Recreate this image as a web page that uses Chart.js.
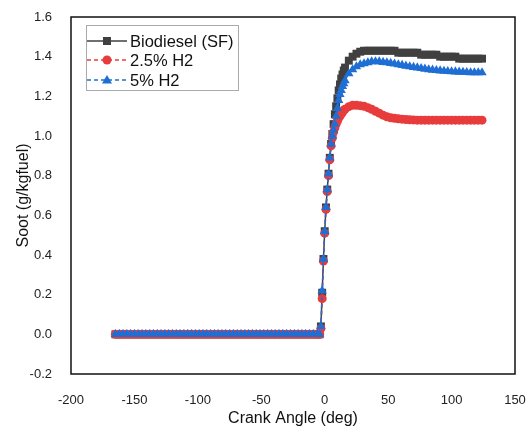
<!DOCTYPE html>
<html>
<head>
<meta charset="utf-8">
<script src="https://cdn.jsdelivr.net/npm/chart.js@4.4.1/dist/chart.umd.min.js"></script>
<style>
  html, body { margin: 0; padding: 0; background: #fff; }
  canvas { display: block; }
</style>
</head>
<body>
<canvas id="sootChart" width="529" height="433"></canvas>
<script>
// Crank angle (deg): before ignition, the fast rise, then the late plateau
const angleBefore = [-165, -162, -159, -156, -153, -150, -147, -144, -141, -138, -135, -132, -129, -126, -123, -120, -117, -114,
    -111, -108, -105, -102, -99, -96, -93, -90, -87, -84, -81, -78, -75, -72, -69, -66, -63, -60, -57, -54, -51, -48,
    -45, -42, -39, -36, -33, -30, -27, -24, -21, -18, -15, -12, -9, -6];
const angleRise = [-4, -3, -2, -1, 0, 1, 2, 3, 4, 5, 6, 7, 8, 9, 10, 11, 12, 13, 14, 15, 16];
const angleLate = [19, 22, 25, 28, 31, 34, 37, 40, 43, 46, 49, 52, 55, 58, 61, 64, 67, 70, 73, 76, 79, 82, 85, 88,
    91, 94, 97, 100, 103, 106, 109, 112, 115, 118, 121, 124];

// Soot before ignition is zero for all three cases
const sootBefore = [0, 0, 0, 0, 0, 0, 0, 0, 0, 0, 0, 0, 0, 0, 0, 0, 0, 0, 0, 0, 0, 0, 0, 0, 0, 0, 0,
    0, 0, 0, 0, 0, 0, 0, 0, 0, 0, 0, 0, 0, 0, 0, 0, 0, 0, 0, 0, 0, 0, 0, 0, 0, 0, 0];

const biodieselRise = [0, 0.04, 0.21, 0.38, 0.52, 0.64, 0.73, 0.81, 0.89, 0.96, 1.01, 1.06, 1.11, 1.15, 1.19, 1.23, 1.26, 1.29, 1.31, 1.33, 1.345];
const biodieselLate = [1.38, 1.40, 1.415, 1.425, 1.43, 1.43, 1.43, 1.43, 1.43, 1.43, 1.43, 1.43, 1.43, 1.42, 1.42, 1.42, 1.42, 1.42,
    1.42, 1.41, 1.41, 1.41, 1.41, 1.41, 1.40, 1.40, 1.40, 1.40, 1.40, 1.39, 1.39, 1.39, 1.39, 1.39, 1.39, 1.39];

const h2Low_Rise = [0, 0.03, 0.18, 0.37, 0.51, 0.63, 0.72, 0.8, 0.88, 0.95, 0.99, 1.02, 1.04, 1.06, 1.075, 1.09, 1.10, 1.11, 1.12, 1.13, 1.135];
const h2Low_Late = [1.148, 1.155, 1.155, 1.153, 1.15, 1.143, 1.135, 1.125, 1.115, 1.105, 1.097, 1.092, 1.089, 1.087, 1.085, 1.083,
    1.082, 1.081, 1.08, 1.08, 1.08, 1.08, 1.08, 1.08, 1.08, 1.08, 1.08, 1.08, 1.08, 1.08, 1.08, 1.08, 1.08, 1.08, 1.08, 1.08];

const h2High_Rise = [0, 0.04, 0.22, 0.38, 0.52, 0.64, 0.73, 0.81, 0.89, 0.96, 1.0, 1.03, 1.06, 1.1, 1.14, 1.18, 1.21, 1.23, 1.25, 1.265, 1.28];
const h2High_Late = [1.315, 1.335, 1.35, 1.36, 1.365, 1.37, 1.375, 1.375, 1.375, 1.372, 1.37, 1.367, 1.364, 1.36, 1.357, 1.353, 1.35, 1.347,
    1.344, 1.341, 1.338, 1.335, 1.333, 1.331, 1.329, 1.327, 1.326, 1.325, 1.324, 1.323, 1.322, 1.321, 1.32, 1.32, 1.32, 1.32];

const seriesNames = ['Biodiesel (SF)', '2.5% H2', '5% H2'];
const xTicks = [-200, -150, -100, -50, 0, 50, 100, 150];
const yTicks = [-0.2, 0, 0.2, 0.4, 0.6, 0.8, 1.0, 1.2, 1.4, 1.6];

const crankAngle = angleBefore.concat(angleRise, angleLate);

function toPoints(before, rise, late) {
    const soot = before.concat(rise, late);
    return crankAngle.map((x, i) => ({ x: x, y: soot[i] }));
}

const FONT = "'Liberation Sans', Arial, sans-serif";

// frame around the plot area and the boxed legend in the top-left corner
const frameAndLegend = {
    id: 'frameAndLegend',
    afterDraw(chart) {
        const ctx = chart.ctx;
        const a = chart.chartArea;
        ctx.save();
        ctx.strokeStyle = '#111';
        ctx.lineWidth = 1.5;
        ctx.strokeRect(a.left, a.top, a.right - a.left, a.bottom - a.top);

        const bx = a.left + 15, by = a.top + 8;
        ctx.fillStyle = '#fff';
        ctx.fillRect(bx, by, 152, 65);
        ctx.strokeStyle = '#aaa';
        ctx.lineWidth = 1;
        ctx.strokeRect(bx + 0.5, by + 0.5, 152, 65);

        const rows = [by + 16, by + 35, by + 55];
        chart.data.datasets.forEach((ds, i) => {
            const y = rows[i];
            ctx.strokeStyle = ds.borderColor;
            ctx.lineWidth = 1.5;
            ctx.setLineDash(ds.borderDash || []);
            ctx.beginPath();
            ctx.moveTo(bx + 1, y);
            ctx.lineTo(bx + 41, y);
            ctx.stroke();
            ctx.setLineDash([]);
            ctx.fillStyle = ds.pointBackgroundColor;
            const cx = bx + 21;
            ctx.beginPath();
            if (ds.pointStyle === 'rect') {
                ctx.rect(cx - 4, y - 4, 8, 8);
            } else if (ds.pointStyle === 'circle') {
                ctx.arc(cx, y, 4.5, 0, Math.PI * 2);
            } else {
                ctx.moveTo(cx, y - 5);
                ctx.lineTo(cx + 5, y + 3.5);
                ctx.lineTo(cx - 5, y + 3.5);
                ctx.closePath();
            }
            ctx.fill();
            ctx.fillStyle = '#111';
            ctx.font = '16.5px ' + FONT;
            ctx.textAlign = 'left';
            ctx.textBaseline = 'middle';
            ctx.fillText(ds.label, bx + 44, y + 1);
        });
        ctx.restore();
    }
};

const chart = document.getElementById('sootChart');
new Chart(chart, {
    type: 'line',
    data: {
        datasets: [{
            label: seriesNames[0],
            data: toPoints(sootBefore, biodieselRise, biodieselLate),
            borderColor: '#404040',
            backgroundColor: '#404040',
            pointBackgroundColor: '#404040',
            pointBorderWidth: 0,
            pointStyle: 'rect',
            pointRadius: 5.6,
            borderWidth: 1.5,
            order: 2
        }, {
            label: seriesNames[1],
            data: toPoints(sootBefore, h2Low_Rise, h2Low_Late),
            borderColor: '#e83c3c',
            backgroundColor: '#e83c3c',
            pointBackgroundColor: '#e83c3c',
            pointBorderWidth: 0,
            pointStyle: 'circle',
            pointRadius: 4.5,
            borderWidth: 1.5,
            borderDash: [4, 3],
            order: 1
        }, {
            label: seriesNames[2],
            data: toPoints(sootBefore, h2High_Rise, h2High_Late),
            borderColor: '#1f6ed4',
            backgroundColor: '#1f6ed4',
            pointBackgroundColor: '#1f6ed4',
            pointBorderWidth: 0,
            pointStyle: 'triangle',
            pointRadius: 5.4,
            borderWidth: 1.5,
            borderDash: [4, 3],
            order: 0
        }]
    },
    options: {
        responsive: false,
        animation: false,
        layout: {
            padding: { left: 0, top: 17, right: 14, bottom: 0 }
        },
        scales: {
            x: {
                type: 'linear',
                min: -200,
                max: 150,
                afterFit: (scale) => {
                    scale.height = 59;
                    scale.paddingLeft = 0;
                    scale.paddingRight = 0;
                },
                afterBuildTicks: (scale) => { scale.ticks = xTicks.map(v => ({ value: v })); },
                grid: { display: false },
                border: { display: false },
                ticks: {
                    padding: 11,
                    color: '#222',
                    font: { family: FONT, size: 13 },
                    maxRotation: 0
                },
                title: {
                    display: true,
                    text: 'Crank Angle (deg)',
                    color: '#111',
                    font: { family: FONT, size: 16 },
                    padding: { top: 0, bottom: 5 }
                }
            },
            y: {
                min: -0.2,
                max: 1.6,
                afterFit: (scale) => {
                    scale.width = 71;
                    scale.paddingTop = 0;
                    scale.paddingBottom = 0;
                },
                afterBuildTicks: (scale) => { scale.ticks = yTicks.map(v => ({ value: v })); },
                grid: { display: false },
                border: { display: false },
                ticks: {
                    padding: 11,
                    color: '#222',
                    font: { family: FONT, size: 13 },
                    callback: (v) => Number(v).toFixed(1)
                },
                title: {
                    display: true,
                    text: 'Soot (g/kgfuel)',
                    color: '#111',
                    font: { family: FONT, size: 16 },
                    padding: { top: 14, bottom: 0 }
                }
            }
        },
        plugins: {
            legend: { display: false },
            tooltip: { enabled: false }
        }
    },
    plugins: [frameAndLegend]
});
</script>
</body>
</html>
